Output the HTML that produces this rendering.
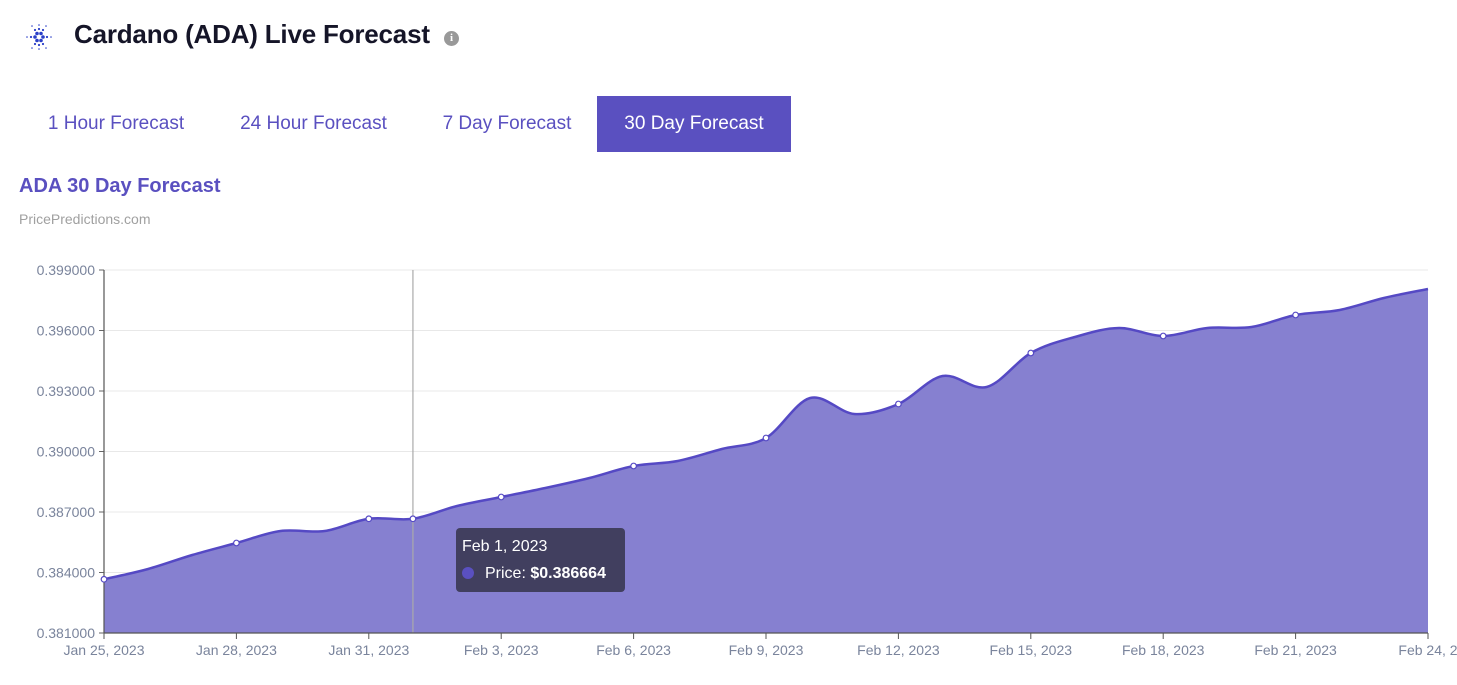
<!DOCTYPE html>
<html><head><meta charset="utf-8">
<style>
body{margin:0;width:1457px;height:685px;background:#fff;font-family:"Liberation Sans",sans-serif;overflow:hidden;position:relative}
.abs{position:absolute}
.tab{position:absolute;top:96px;height:56px;line-height:56px;font-size:19px;color:#5a50c0;text-align:center}
</style></head><body>
<svg class="abs" style="left:24px;top:22px" width="30" height="30" viewBox="0 0 30 30">
<g fill="#2a3fc8">
<circle cx="11" cy="15" r="1.8"/><circle cx="19" cy="15" r="1.8"/><circle cx="13" cy="11.5" r="1.8"/><circle cx="17" cy="11.5" r="1.8"/><circle cx="13" cy="18.5" r="1.8"/><circle cx="17" cy="18.5" r="1.8"/>
<circle cx="7" cy="15" r="1.1"/><circle cx="23" cy="15" r="1.1"/><circle cx="11" cy="8" r="1.1"/><circle cx="19" cy="8" r="1.1"/><circle cx="11" cy="22" r="1.1"/><circle cx="19" cy="22" r="1.1"/><circle cx="15" cy="7" r="1.1"/><circle cx="15" cy="23" r="1.1"/>
<circle cx="3" cy="15" r=".8"/><circle cx="27" cy="15" r=".8"/><circle cx="8" cy="4" r=".8"/><circle cx="22" cy="4" r=".8"/><circle cx="8" cy="26" r=".8"/><circle cx="22" cy="26" r=".8"/><circle cx="15" cy="3" r=".8"/><circle cx="15" cy="27" r=".8"/>
</g></svg>
<div class="abs" style="left:74px;top:19px;font-size:26px;font-weight:bold;color:#151528;letter-spacing:-0.2px">Cardano (ADA) Live Forecast</div>
<div class="abs" style="left:444px;top:31px;width:15px;height:15px;border-radius:50%;background:#999;color:#fff;font-size:11px;font-weight:bold;text-align:center;line-height:15px;font-family:'Liberation Serif',serif">i</div>
<div class="tab" style="left:26px;width:180px">1 Hour Forecast</div>
<div class="tab" style="left:216px;width:195px">24 Hour Forecast</div>
<div class="tab" style="left:421px;width:172px">7 Day Forecast</div>
<div class="tab" style="left:597px;width:194px;background:#5a50c0;color:#fff">30 Day Forecast</div>
<div class="abs" style="left:19px;top:175px;font-size:20px;font-weight:bold;color:#5a50c0">ADA 30 Day Forecast</div>
<div class="abs" style="left:19px;top:211px;font-size:14px;color:#a0a0a0">PricePredictions.com</div>
<svg class="abs" style="left:0;top:0" width="1457" height="685" id="chart"></svg>
<div class="abs" style="left:456px;top:528px;width:169px;height:64px;background:rgba(60,58,85,0.92);border-radius:4px;color:#fff;font-size:16px">
<div style="position:absolute;left:6px;top:10px">Feb 1, 2023</div>
<div style="position:absolute;left:6px;top:39px;width:12px;height:12px;border-radius:50%;background:#5a50c0"></div>
<div style="position:absolute;left:29px;top:37px">Price: <b>$0.386664</b></div>
</div>
<script>
const dates=["Jan 25, 2023","Jan 28, 2023","Jan 31, 2023","Feb 3, 2023","Feb 6, 2023","Feb 9, 2023","Feb 12, 2023","Feb 15, 2023","Feb 18, 2023","Feb 21, 2023","Feb 24, 2"];
const yTicks=[0.381,0.384,0.387,0.390,0.393,0.396,0.399];
const prices=[0.383664,0.384174,0.384868,0.385463,0.386058,0.386058,0.386664,0.386664,0.387298,0.387744,0.38819,0.388686,0.389281,0.389529,0.390124,0.39067,0.392653,0.39186,0.392355,0.393744,0.393198,0.394884,0.395678,0.396124,0.395727,0.396124,0.396174,0.396769,0.397017,0.397612,0.398058];
const hoverIndex=7;
const NS="http://www.w3.org/2000/svg";
const svg=document.getElementById('chart');
const x0=104,x1=1428,yTop=270,yBot=633,yMin=0.381,yMax=0.399;
const xs=i=>x0+(x1-x0)*i/(prices.length-1);
const ys=v=>yBot-(v-yMin)/(yMax-yMin)*(yBot-yTop);
function mk(t,a){const e=document.createElementNS(NS,t);for(const k in a)e.setAttribute(k,a[k]);svg.appendChild(e);return e;}
yTicks.forEach(v=>{
  const g=mk('line',{x1:x0,x2:x1,y1:ys(v),y2:ys(v),stroke:'#e8e8e8'});
  
  
  mk('line',{x1:x0-5,x2:x0,y1:ys(v),y2:ys(v),stroke:'#666'});
  const t=mk('text',{x:x0-9,y:ys(v)+5,'text-anchor':'end','font-size':14,fill:'#7a849c','font-family':'Liberation Sans, sans-serif'});
  t.textContent=v.toFixed(6);
  
  
});
const P=prices.map((v,i)=>[xs(i),ys(v)]);
let d=`M${P[0][0]},${P[0][1]}`;
for(let i=0;i<P.length-1;i++){
  const p0=P[Math.max(0,i-1)],p1=P[i],p2=P[i+1],p3=P[Math.min(P.length-1,i+2)];
  const c1=[p1[0]+(p2[0]-p0[0])/6,p1[1]+(p2[1]-p0[1])/6],c2=[p2[0]-(p3[0]-p1[0])/6,p2[1]-(p3[1]-p1[1])/6];
  d+=` C${c1[0]},${c1[1]} ${c2[0]},${c2[1]} ${p2[0]},${p2[1]}`;
}
const area=mk('path',{d:d+` L${x1},${yBot} L${x0},${yBot} Z`,fill:'#8680d0'});


const line=mk('path',{d:d,fill:'none',stroke:'#5549c4','stroke-width':2.5});


mk('line',{x1:xs(hoverIndex),x2:xs(hoverIndex),y1:yTop,y2:yBot,stroke:'#aaa','stroke-width':1.2});
mk('line',{x1:x0,x2:x0,y1:yTop,y2:yBot,stroke:'#555','stroke-width':1.2});
mk('line',{x1:x0,x2:x1,y1:yBot,y2:yBot,stroke:'#555','stroke-width':1.2});
prices.forEach((v,i)=>{
  if((i%3===0&&i<prices.length-1)||i===hoverIndex){
    const c=mk('circle',{cx:xs(i),cy:ys(v),r:2.8,fill:'#fff',stroke:'#5549c4','stroke-width':1.2});
    
    
  }
});
dates.forEach((s,k)=>{
  const x=xs(k*3);
  mk('line',{x1:x,x2:x,y1:yBot,y2:yBot+6,stroke:'#555'});
  const t=mk('text',{x:x,y:yBot+22,'text-anchor':'middle','font-size':14,fill:'#7a849c','font-family':'Liberation Sans, sans-serif'});
  t.textContent=s;
  
  
});
</script>
</body></html>
